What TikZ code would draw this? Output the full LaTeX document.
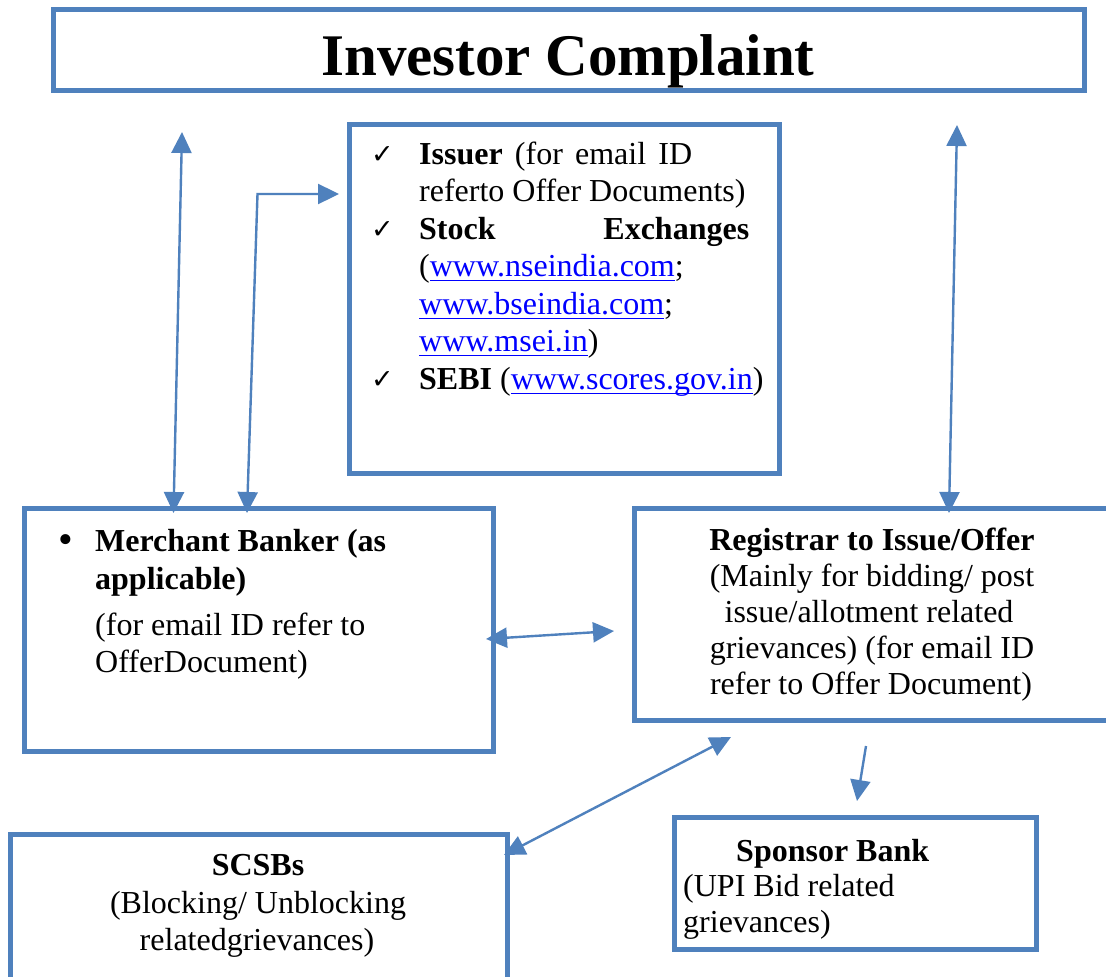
\documentclass[tikz,border=0pt]{standalone}
\usepackage{fontspec}
\setmainfont{Liberation Serif}
\newfontfamily\symfont{DejaVu Sans}
\usetikzlibrary{arrows.meta}
\definecolor{boxblue}{RGB}{79,129,189}
\definecolor{linkblue}{RGB}{0,0,255}
\newcommand{\lnk}[1]{\textcolor{linkblue}{\underline{\smash{#1}\rule[-2.5pt]{0pt}{1pt}}}}
\tikzset{
  box/.style={draw=boxblue, line width=5pt, rectangle, inner sep=0pt, outer sep=0pt, anchor=north west},
  conn/.style={draw=boxblue, line width=2.4pt, {Triangle[length=21pt,width=20pt]}-{Triangle[length=21pt,width=20pt]}},
  oneway/.style={draw=boxblue, line width=2.4pt, -{Triangle[length=21pt,width=20pt]}},
  txt/.style={inner sep=0pt, anchor=base west, font=\fontsize{32}{37}\selectfont},
  ctxt/.style={inner sep=0pt, anchor=base, font=\fontsize{32}{37}\selectfont},
  chk/.style={inner sep=0pt, anchor=base west, font=\symfont\bfseries\fontsize{27}{29}\selectfont},
}
\begin{document}
\begin{tikzpicture}[x=1pt,y=-1pt]
\useasboundingbox[fill=white] (0,0) rectangle (1106,977);

% boxes
\node[box, minimum width=1031pt, minimum height=81pt] (title) at (53.5,9.5) {};
\node[box, minimum width=430pt, minimum height=349pt] (issuer) at (349.5,124.5) {};
\node[box, minimum width=469pt, minimum height=243pt] (merchant) at (24.5,508.5) {};
\node[box, minimum width=480pt, minimum height=212pt] (registrar) at (634.5,508.5) {};
\node[box, minimum width=497.5pt, minimum height=160pt] (scsb) at (10,834.5) {};
\node[box, minimum width=362pt, minimum height=132pt] (sponsor) at (674.5,817.5) {};

% title text
\node[inner sep=0pt, anchor=base, font=\bfseries\fontsize{59}{62}\selectfont] (ttltext) at (568,75) {Investor Complaint};

% issuer box text
\node[chk] (c1) at (371,163) {✓};
\node[txt] (i1) at (419,164) {\makebox[273pt][s]{\textbf{Issuer} (for email ID}};
\node[txt] (i2) at (419,201.5) {referto Offer Documents)};
\node[chk] (c2) at (371,238) {✓};
\node[txt] (i3) at (419,239) {\makebox[330pt][s]{\textbf{Stock}\hfill\textbf{Exchanges}}};
\node[txt] (i4) at (419,276.5) {(\lnk{www.nseindia.com};};
\node[txt] (i5) at (419,314) {\lnk{www.bseindia.com};};
\node[txt] (i6) at (419,351.5) {\lnk{www.msei.in})};
\node[chk] (c3) at (371,388) {✓};
\node[txt] (i7) at (419,389) {\textbf{SEBI} (\lnk{www.scores.gov.in})};

% merchant banker text
\node[txt, font=\fontsize{42}{44}\selectfont] (mb) at (58,553) {•};
\node[txt] (m1) at (95,551) {\textbf{Merchant Banker (as}};
\node[txt] (m2) at (95,589) {\textbf{applicable)}};
\node[txt] (m3) at (95,635) {(for email ID refer to};
\node[txt] (m4) at (95,672) {OfferDocument)};

% registrar text
\node[ctxt] (r1) at (872,550) {\textbf{Registrar to Issue/Offer}};
\node[ctxt] (r2) at (872,586) {(Mainly for bidding/ post};
\node[ctxt] (r3) at (869,622) {issue/allotment related};
\node[ctxt] (r4) at (872,658) {grievances) (for email ID};
\node[ctxt] (r5) at (871,694) {refer to Offer Document)};

% SCSBs text
\node[ctxt] (s1) at (258,875) {\textbf{SCSBs}};
\node[ctxt] (s2) at (258,913) {(Blocking/ Unblocking};
\node[ctxt] (s3) at (257,950) {relatedgrievances)};

% sponsor bank text
\node[txt] (p1) at (736,861) {\textbf{Sponsor Bank}};
\node[txt] (p2) at (683,896) {(UPI Bid related};
\node[txt] (p3) at (683,932) {grievances)};

% connector end points
\coordinate (a1s) at (182,132);
\coordinate (a1e) at (173.5,513);
\coordinate (a2s) at (247,513);
\coordinate (a2m) at (257.5,194);
\coordinate (a2e) at (339,194);
\coordinate (a3s) at (957,125);
\coordinate (a3e) at (949,513);
\coordinate (a4s) at (486,639);
\coordinate (a4e) at (614,631);
\coordinate (a5s) at (504,855);
\coordinate (a5e) at (731,737);
\coordinate (a6s) at (866,746);
\coordinate (a6e) at (857,801);

% connectors
\draw[conn] (a1s) -- (a1e);
\draw[conn] (a2s) -- (a2m) -- (a2e);
\draw[conn] (a3s) -- (a3e);
\draw[conn] (a4s) -- (a4e);
\draw[conn] (a5s) -- (a5e);
\draw[oneway] (a6s) -- (a6e);
\end{tikzpicture}
\end{document}
